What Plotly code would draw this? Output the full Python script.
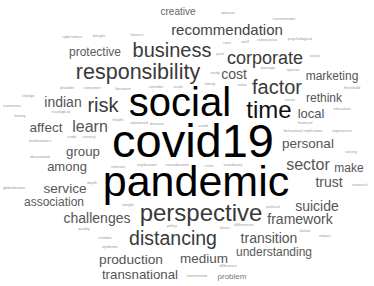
import plotly.graph_objects as go

# Word cloud: words, relative frequency (font size), and layout positions
words = ["pandemic", "covid19", "social", "time", "perspective", "responsibility",
         "business", "factor", "distancing", "risk", "corporate", "recommendation",
         "sector", "learn", "local", "indian", "cost", "trust", "affect", "personal",
         "challenges", "framework", "transition", "suicide", "production", "transnational",
         "service", "group", "medium", "among", "marketing", "rethink", "make",
         "protective", "understanding", "association", "creative", "problem"]
weights = [43, 47, 40, 24, 24, 21.5, 20, 20, 19.5, 20, 18, 15, 16, 16, 13, 14, 14, 14,
           13.5, 13.5, 14, 14, 14, 14, 13.7, 13.3, 13.6, 13.3, 13.5, 13, 12, 12, 12,
           12, 12, 12, 10, 8]
word_x = [196, 193, 180, 269, 201, 138, 172, 277, 173, 103, 265, 227, 308, 90, 311,
          63, 234, 329, 46, 308, 97, 300, 269, 317, 131, 140, 65, 83, 204, 67, 332,
          324, 349, 95, 274, 54, 178, 232]
word_y = [185, 145, 106, 112, 214.5, 74, 52, 89, 240, 107, 59, 31.5, 166, 128, 114.5,
          103.5, 75.5, 183.5, 128.5, 144.5, 219.5, 220.5, 239.5, 207.5, 260.5, 275.5,
          189.5, 152.5, 259.5, 167.5, 77.3, 99.3, 169.3, 53.3, 253.3, 203.3, 12, 277]
word_color = ["#000000", "#000000", "#000000", "#111111", "#3a3a3a", "#3a3a3a",
              "#3a3a3a", "#3a3a3a", "#3a3a3a", "#3a3a3a", "#3a3a3a", "#444444",
              "#555555", "#555555", "#555555", "#555555", "#555555", "#555555",
              "#555555", "#555555", "#555555", "#555555", "#555555", "#555555",
              "#555555", "#555555", "#555555", "#555555", "#555555", "#555555",
              "#555555", "#555555", "#555555", "#5a5a5a", "#5a5a5a", "#5a5a5a",
              "#666666", "#777777"]

# Rare words (tiny)
small_words = ["cybernetics", "bought", "finance", "sponsor", "transmission", "care", "staff",
               "coronavirus", "psychological", "post", "sector", "manage", "special", "study",
               "family", "value", "threshold", "disorder", "consumer", "literature",
               "consider", "scale", "change", "numerous", "ecological", "theory",
               "mathematics", "trade", "century", "devastated", "health", "advanced",
               "disease", "relevant", "exploration", "consideration", "depth",
               "globalization", "avoid", "nurse", "education", "financial",
               "behavioral implication", "experience", "survey", "crisis", "mandatory",
               "research", "weight", "quality", "number", "epidemic", "policy",
               "political", "basic", "differences", "failure", "impact", "difference",
               "intervention"]
small_x = [72, 99, 137, 228, 284, 227, 245, 267, 300, 220, 315, 268, 293, 215, 210, 242,
           352, 67, 92, 123, 156, 178, 28, 12, 61, 20, 40, 72, 89, 40, 118, 139, 157, 118,
           147, 177, 92, 14, 203, 290, 342, 305, 303, 342, 351, 209, 233, 360, 128, 84,
           105, 110, 172, 273, 225, 244, 305, 325, 228, 197]
small_y = [37, 36, 35, 13, 19, 43, 42, 40, 39, 54, 56, 68, 70, 73, 84, 85, 88, 88, 88,
           89, 87, 87, 96, 106, 112, 116, 141, 137, 137, 157, 120, 123, 124, 167, 165, 165,
           183, 188, 126, 100, 109, 123, 131, 131, 152, 166, 165, 185, 205, 229, 238, 247,
           226, 207, 228, 225, 231, 236, 266, 276]

fig = go.Figure()
fig.add_trace(go.Scatter(
    x=small_x, y=small_y, text=small_words, mode="text",
    textposition="middle center",
    textfont=dict(family="Liberation Sans, Arial, sans-serif", size=4, color="#9a9a9a"),
    hoverinfo="skip", showlegend=False))
fig.add_trace(go.Scatter(
    x=word_x, y=word_y, text=words, mode="text",
    textposition="middle center",
    textfont=dict(family="Liberation Sans, Arial, sans-serif", size=weights, color=word_color),
    hoverinfo="text", showlegend=False))

fig.update_layout(
    width=374, height=286,
    margin=dict(l=0, r=0, t=0, b=0),
    paper_bgcolor="white", plot_bgcolor="white",
    xaxis=dict(range=[0, 374], visible=False, fixedrange=True),
    yaxis=dict(range=[286, 0], visible=False, fixedrange=True),
)
fig.write_html("out.html", config={"displayModeBar": False},
               post_script="document.body.style.margin='0';document.body.style.overflow='hidden';")
